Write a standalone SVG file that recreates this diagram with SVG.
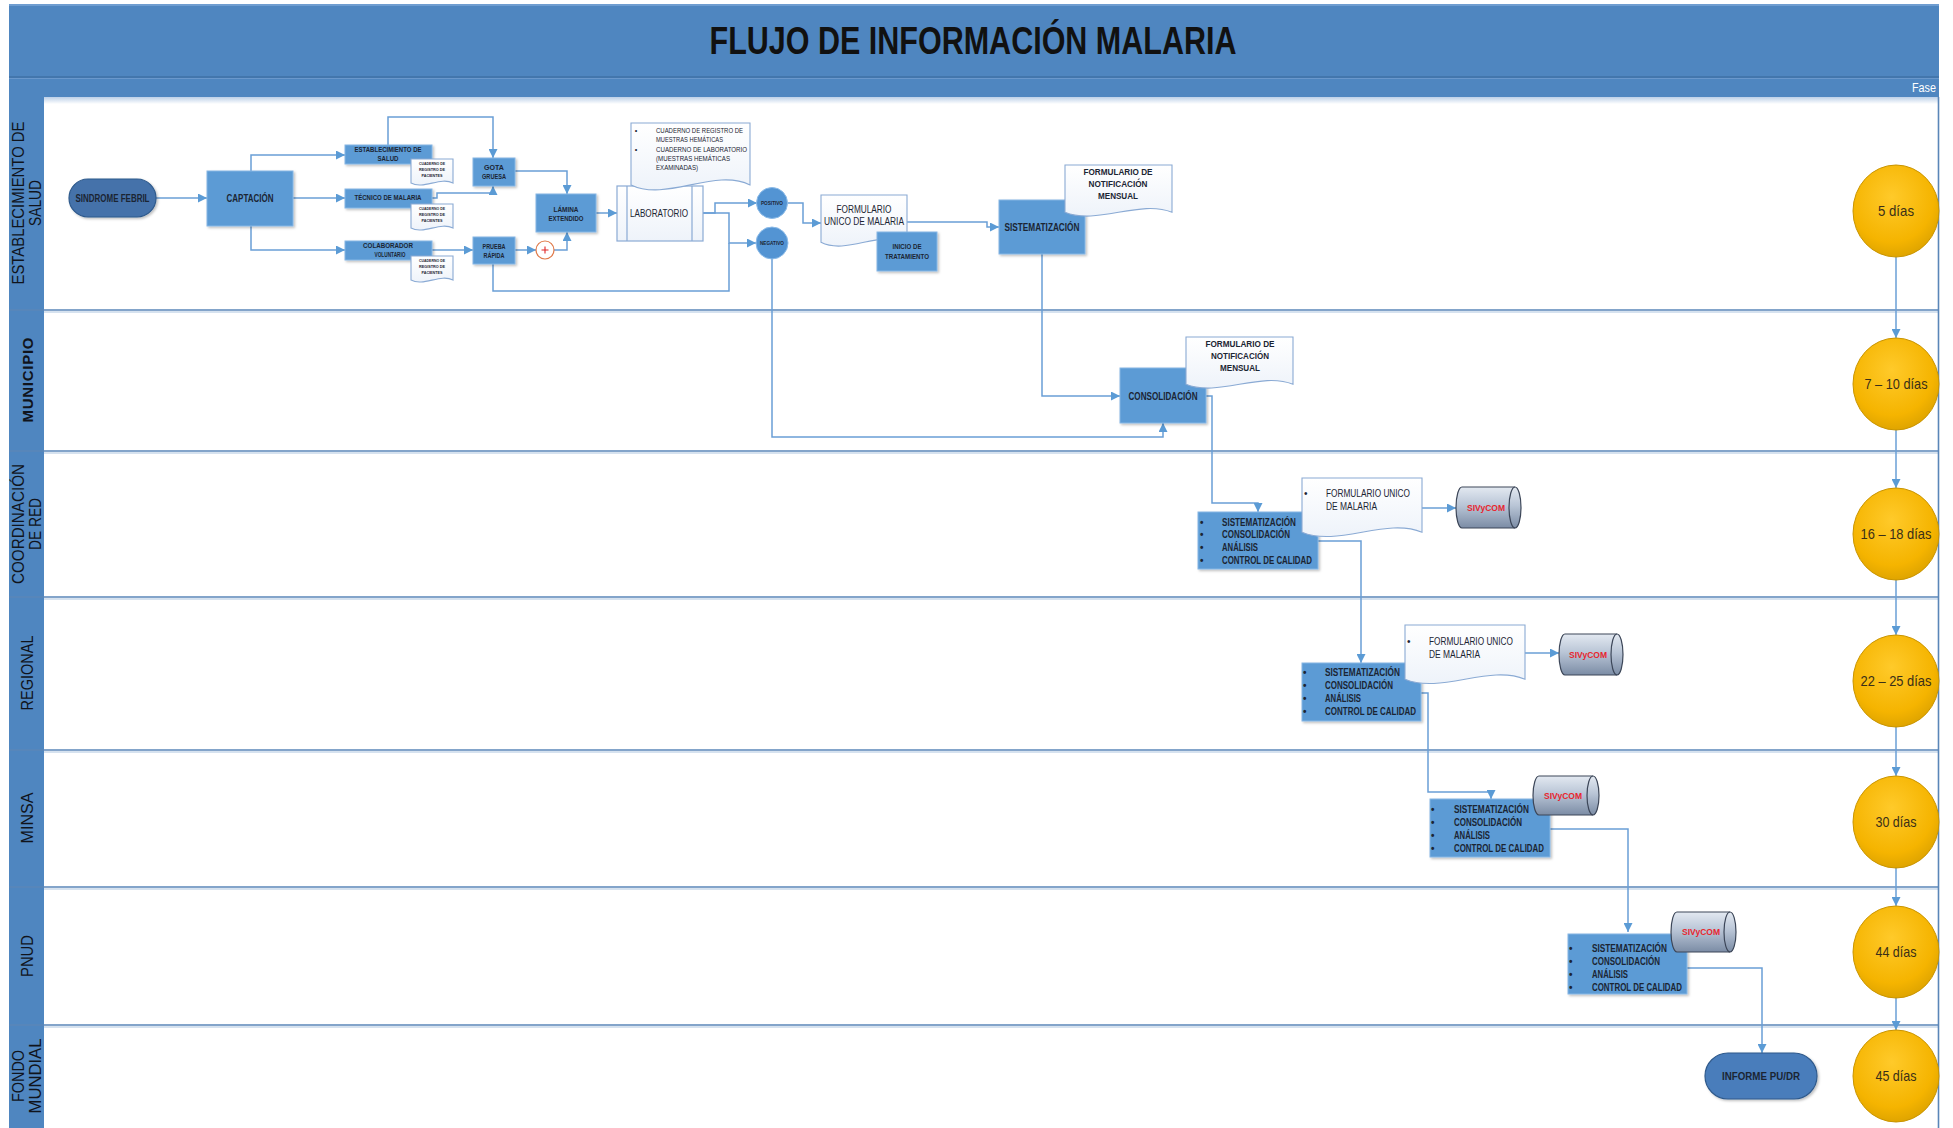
<svg xmlns="http://www.w3.org/2000/svg" width="1953" height="1128" viewBox="0 0 1953 1128">
<defs>
<marker id="arr" viewBox="0 0 10 10" refX="10" refY="5" markerWidth="9" markerHeight="9" markerUnits="userSpaceOnUse" orient="auto"><path d="M0,0 L10,5 L0,10 z" fill="#5b9bd5"/></marker>
<linearGradient id="docg" x1="0" y1="0" x2="0" y2="1"><stop offset="0" stop-color="#ffffff"/><stop offset="1" stop-color="#eef3fa"/></linearGradient>
<linearGradient id="cylg" x1="0" y1="0" x2="0" y2="1"><stop offset="0" stop-color="#e3e9f1"/><stop offset="0.45" stop-color="#b9c5d6"/><stop offset="1" stop-color="#7b8ca5"/></linearGradient>
<radialGradient id="dayg" cx="0.45" cy="0.35" r="0.7"><stop offset="0" stop-color="#ffca2a"/><stop offset="0.7" stop-color="#f5b400"/><stop offset="1" stop-color="#d9a000"/></radialGradient>
<linearGradient id="shadeg" x1="0" y1="0" x2="0" y2="1"><stop offset="0" stop-color="#bcd0e8"/><stop offset="1" stop-color="#ffffff"/></linearGradient>
<filter id="sh" x="-10%" y="-10%" width="130%" height="140%"><feDropShadow dx="1.5" dy="1.5" stdDeviation="1" flood-color="#000" flood-opacity="0.25"/></filter>
</defs>
<style>
.t{font-family:"Liberation Sans",Arial,sans-serif;fill:#1b2533}
.b{font-weight:bold}
.c{text-anchor:middle}
.box{fill:#5b9bd5;stroke:#86b6e4;stroke-width:1;filter:url(#sh)}
.pill{fill:#4472aa;stroke:#2f5a8c;stroke-width:1.2;filter:url(#sh)}
.doc{fill:url(#docg);stroke:#8aaad4;stroke-width:1.1}
.cyl{fill:url(#cylg);stroke:#3c4658;stroke-width:1.2}
.cyli{fill:none;stroke:#3c4658;stroke-width:1.2}
.day{fill:url(#dayg);stroke:#c99400;stroke-width:1}
.conn{fill:none;stroke:#6a9fd6;stroke-width:1.5;marker-end:url(#arr)}
.connn{fill:none;stroke:#6a9fd6;stroke-width:1.5}
.lane{stroke:#5a86b8;stroke-width:1.6}
.lanes{stroke:#c8d8ea;stroke-width:1.5}
.lbl{font-family:"Liberation Sans",Arial,sans-serif;fill:#10141c;font-size:17px;text-anchor:middle}
.sv{font-family:"Liberation Sans",Arial,sans-serif;fill:#e8262e;font-size:9.5px;font-weight:bold;text-anchor:middle}
.dt{font-family:"Liberation Sans",Arial,sans-serif;fill:#3a2f18;font-size:14.5px;text-anchor:middle}
</style>
<rect x="0" y="0" width="1953" height="1128" fill="#ffffff"/>
<g id="header">
<rect x="9" y="4" width="1930" height="93" fill="#4f86c0"/>
<line x1="9" y1="5" x2="1939" y2="5" stroke="#6f9dd0" stroke-width="2"/>
<line x1="9" y1="77" x2="1939" y2="77" stroke="#3f70a6" stroke-width="1.5"/>
<line x1="9" y1="78.5" x2="1939" y2="78.5" stroke="#6a98cc" stroke-width="1"/>
<text class="t b c" x="973" y="54" font-size="38" textLength="527" lengthAdjust="spacingAndGlyphs" style="fill:#111">FLUJO DE INFORMACIÓN MALARIA</text>
<text class="t" x="1936" y="92" font-size="12" text-anchor="end" textLength="24" lengthAdjust="spacingAndGlyphs" style="fill:#ffffff">Fase</text>
</g>
<g id="lanes">
<rect x="9" y="97" width="35" height="1031" fill="#4f86c0"/>
<rect x="44" y="97" width="1894" height="7" fill="url(#shadeg)"/>
<line class="lanes" x1="44" y1="312" x2="1938" y2="312"/>
<line class="lanes" x1="44" y1="453" x2="1938" y2="453"/>
<line class="lanes" x1="44" y1="599" x2="1938" y2="599"/>
<line class="lanes" x1="44" y1="752" x2="1938" y2="752"/>
<line class="lanes" x1="44" y1="889" x2="1938" y2="889"/>
<line class="lanes" x1="44" y1="1027" x2="1938" y2="1027"/>
<line class="lane" x1="9" y1="310" x2="1938" y2="310"/>
<line class="lane" x1="9" y1="451" x2="1938" y2="451"/>
<line class="lane" x1="9" y1="597" x2="1938" y2="597"/>
<line class="lane" x1="9" y1="750" x2="1938" y2="750"/>
<line class="lane" x1="9" y1="887" x2="1938" y2="887"/>
<line class="lane" x1="9" y1="1025" x2="1938" y2="1025"/>
<line class="lane" x1="1938.5" y1="97" x2="1938.5" y2="1128"/>
<text class="lbl" transform="translate(24,203) rotate(-90)" textLength="163" lengthAdjust="spacingAndGlyphs">ESTABLECIMIENTO DE</text>
<text class="lbl" transform="translate(41,203) rotate(-90)" textLength="46" lengthAdjust="spacingAndGlyphs">SALUD</text>
<text class="lbl b" transform="translate(33,380) rotate(-90)" style="font-size:15px" textLength="85">MUNICIPIO</text>
<text class="lbl" transform="translate(24,524) rotate(-90)" textLength="120" lengthAdjust="spacingAndGlyphs">COORDINACIÓN</text>
<text class="lbl" transform="translate(41,524) rotate(-90)" textLength="52" lengthAdjust="spacingAndGlyphs">DE RED</text>
<text class="lbl" transform="translate(33,673) rotate(-90)" textLength="75" lengthAdjust="spacingAndGlyphs">REGIONAL</text>
<text class="lbl" transform="translate(33,818) rotate(-90)" textLength="51" lengthAdjust="spacingAndGlyphs">MINSA</text>
<text class="lbl" transform="translate(33,956) rotate(-90)" textLength="42" lengthAdjust="spacingAndGlyphs">PNUD</text>
<text class="lbl" transform="translate(24,1076) rotate(-90)" textLength="52" lengthAdjust="spacingAndGlyphs">FONDO</text>
<text class="lbl" transform="translate(41,1076) rotate(-90)" textLength="75" lengthAdjust="spacingAndGlyphs">MUNDIAL</text>
</g>
<g id="connectors">
<path class="conn" d="M156,198 H207"/>
<path class="conn" d="M251,171 V155 H345"/>
<path class="conn" d="M293,198 H345"/>
<path class="conn" d="M251,226 V250 H345"/>
<path class="conn" d="M388,145 V117 H493 V158"/>
<path class="conn" d="M432,198 H437 V193 H493 V186"/>
<path class="conn" d="M432,250 H473"/>
<path class="conn" d="M515,171 H567 V194"/>
<path class="conn" d="M515,250 H536"/>
<path class="conn" d="M554,250 H567 V232"/>
<path class="conn" d="M596,213 H617"/>
<path class="conn" d="M703,213 H715 V203 H757"/>
<path class="conn" d="M703,213 H729 V243 H756"/>
<path class="connn" d="M493,264 V291 H729 V243"/>
<path class="conn" d="M788,203 H803 V223 H821"/>
<path class="conn" d="M907,222 H987 V227 H999"/>
<path class="conn" d="M772,259 V437 H1163 V423"/>
<path class="conn" d="M1042,254 V396 H1120"/>
<path class="conn" d="M1206,396 H1212 V503 H1258 V512"/>
<path class="conn" d="M1422,508 H1456"/>
<path class="conn" d="M1318,541 H1361 V663"/>
<path class="conn" d="M1525,653 H1559"/>
<path class="conn" d="M1421,693 H1428 V792 H1491 V799"/>
<path class="conn" d="M1550,829 H1628 V932"/>
<path class="conn" d="M1687,968 H1762 V1053"/>
<path class="conn" d="M1896,257 V338"/>
<path class="conn" d="M1896,430 V488"/>
<path class="conn" d="M1896,580 V635"/>
<path class="conn" d="M1896,727 V776"/>
<path class="conn" d="M1896,868 V906"/>
<path class="conn" d="M1896,998 V1030"/>
</g>
<g id="n-sindrome">
<rect class="pill" x="69" y="179" width="87" height="38" rx="19"/>
<text class="t b c" x="112.5" y="201.7" font-size="10.5" textLength="74" lengthAdjust="spacingAndGlyphs">SINDROME FEBRIL</text>
</g>
<g id="n-captacion">
<rect class="box" x="207" y="171" width="86" height="55"/>
<text class="t b c" x="250" y="202" font-size="11" textLength="47" lengthAdjust="spacingAndGlyphs">CAPTACIÓN</text>
</g>
<g id="n-establecimiento">
<rect class="box" x="345" y="145" width="87" height="19"/>
<text class="t b c" x="388" y="152.3" font-size="6.5" textLength="67" lengthAdjust="spacingAndGlyphs">ESTABLECIMIENTO DE</text>
<text class="t b c" x="388" y="161.3" font-size="6.5" textLength="21" lengthAdjust="spacingAndGlyphs">SALUD</text>
</g>
<g id="n-doc-estab">
<path class="doc" d="M411,159 H453 V183.1 C440.4,176.4 423.6,189.8 411,183.1 Z"/>
<text class="t b c" x="432" y="164.7" font-size="4" textLength="26" lengthAdjust="spacingAndGlyphs">CUADERNO DE</text>
<text class="t b c" x="432" y="170.7" font-size="4" textLength="26" lengthAdjust="spacingAndGlyphs">REGISTRO DE</text>
<text class="t b c" x="432" y="177.1" font-size="4" textLength="21" lengthAdjust="spacingAndGlyphs">PACIENTES</text>
</g>
<g id="n-tecnico">
<rect class="box" x="345" y="189" width="87" height="19"/>
<text class="t b c" x="388" y="200.3" font-size="6.5" textLength="67" lengthAdjust="spacingAndGlyphs">TÉCNICO DE MALARIA</text>
</g>
<g id="n-doc-tecnico">
<path class="doc" d="M411,204 H453 V228.1 C440.4,221.4 423.6,234.8 411,228.1 Z"/>
<text class="t b c" x="432" y="209.7" font-size="4" textLength="26" lengthAdjust="spacingAndGlyphs">CUADERNO DE</text>
<text class="t b c" x="432" y="215.7" font-size="4" textLength="26" lengthAdjust="spacingAndGlyphs">REGISTRO DE</text>
<text class="t b c" x="432" y="222.1" font-size="4" textLength="21" lengthAdjust="spacingAndGlyphs">PACIENTES</text>
</g>
<g id="n-colaborador">
<rect class="box" x="345" y="241" width="87" height="19"/>
<text class="t b c" x="388" y="248.3" font-size="6.5" textLength="50" lengthAdjust="spacingAndGlyphs">COLABORADOR</text>
<text class="t b c" x="390" y="257.3" font-size="6.5" textLength="31" lengthAdjust="spacingAndGlyphs">VOLUNTARIO</text>
</g>
<g id="n-doc-colaborador">
<path class="doc" d="M411,256 H453 V280.1 C440.4,273.4 423.6,286.8 411,280.1 Z"/>
<text class="t b c" x="432" y="261.7" font-size="4" textLength="26" lengthAdjust="spacingAndGlyphs">CUADERNO DE</text>
<text class="t b c" x="432" y="267.7" font-size="4" textLength="26" lengthAdjust="spacingAndGlyphs">REGISTRO DE</text>
<text class="t b c" x="432" y="274.1" font-size="4" textLength="21" lengthAdjust="spacingAndGlyphs">PACIENTES</text>
</g>
<g id="n-gota">
<rect class="box" x="473" y="158" width="42" height="28"/>
<text class="t b c" x="494" y="169.5" font-size="7" textLength="20" lengthAdjust="spacingAndGlyphs">GOTA</text>
<text class="t b c" x="494" y="178.5" font-size="7" textLength="24" lengthAdjust="spacingAndGlyphs">GRUESA</text>
</g>
<g id="n-prueba">
<rect class="box" x="473" y="237" width="42" height="27"/>
<text class="t b c" x="494" y="248.5" font-size="7" textLength="23" lengthAdjust="spacingAndGlyphs">PRUEBA</text>
<text class="t b c" x="494" y="257.5" font-size="7" textLength="21" lengthAdjust="spacingAndGlyphs">RÁPIDA</text>
</g>
<g id="n-plus">
<circle cx="545" cy="250" r="9" fill="#ffffff" stroke="#e07a4a" stroke-width="1.2"/>
<path d="M541.5,250 H548.5 M545,246.5 V253.5" stroke="#e02525" stroke-width="1.1"/>
</g>
<g id="n-lamina">
<rect class="box" x="536" y="194" width="60" height="38"/>
<text class="t b c" x="566" y="211.5" font-size="7" textLength="25" lengthAdjust="spacingAndGlyphs">LÁMINA</text>
<text class="t b c" x="566" y="220.5" font-size="7" textLength="35" lengthAdjust="spacingAndGlyphs">EXTENDIDO</text>
</g>
<g id="n-laboratorio">
<rect x="617" y="186" width="86" height="55" fill="url(#docg)" stroke="#8aaad4" stroke-width="1.2"/>
<path d="M627,186 V241 M692,186 V241" stroke="#8aaad4" stroke-width="1.2"/>
<text class="t c" x="659" y="216.7" font-size="10.5" textLength="58" lengthAdjust="spacingAndGlyphs">LABORATORIO</text>
</g>
<g id="n-doc-lab">
<path class="doc" d="M631,123 H750 V184.9 C714.3,167.6 666.7,202.2 631,184.9 Z"/>
<text class="t c" x="636" y="132.6" font-size="7.3">•</text>
<text class="t" x="656" y="132.6" font-size="7.3" textLength="87" lengthAdjust="spacingAndGlyphs">CUADERNO DE REGISTRO DE</text>
<text class="t" x="656" y="141.6" font-size="7.3" textLength="67" lengthAdjust="spacingAndGlyphs">MUESTRAS HEMÁTICAS</text>
<text class="t c" x="636" y="151.6" font-size="7.3">•</text>
<text class="t" x="656" y="151.6" font-size="7.3" textLength="91" lengthAdjust="spacingAndGlyphs">CUADERNO DE LABORATORIO</text>
<text class="t" x="656" y="160.6" font-size="7.3" textLength="74" lengthAdjust="spacingAndGlyphs">(MUESTRAS HEMÁTICAS</text>
<text class="t" x="656" y="169.6" font-size="7.3" textLength="42" lengthAdjust="spacingAndGlyphs">EXAMINADAS)</text>
</g>
<g id="n-positivo">
<circle cx="772" cy="203" r="15.5" fill="#5394d3" stroke="#8cbbe8" stroke-width="1"/>
<text class="t b c" x="772" y="204.8" font-size="5" textLength="22" lengthAdjust="spacingAndGlyphs">POSITIVO</text>
</g>
<g id="n-negativo">
<circle cx="772" cy="243" r="16" fill="#5394d3" stroke="#8cbbe8" stroke-width="1"/>
<text class="t b c" x="772" y="244.8" font-size="5" textLength="24" lengthAdjust="spacingAndGlyphs">NEGATIVO</text>
</g>
<g id="n-formulario-unico">
<path class="doc" d="M821,195 H907 V242.3 C881.2,229.1 846.8,255.5 821,242.3 Z"/>
<text class="t c" x="864" y="212.5" font-size="10" textLength="55" lengthAdjust="spacingAndGlyphs">FORMULARIO</text>
<text class="t c" x="864" y="224.5" font-size="10" textLength="80" lengthAdjust="spacingAndGlyphs">UNICO DE MALARIA</text>
</g>
<g id="n-inicio">
<rect class="box" x="877" y="232" width="60" height="39"/>
<text class="t b c" x="907" y="249.3" font-size="6.5" textLength="29" lengthAdjust="spacingAndGlyphs">INICIO DE</text>
<text class="t b c" x="907" y="259.3" font-size="6.5" textLength="44" lengthAdjust="spacingAndGlyphs">TRATAMIENTO</text>
</g>
<g id="n-sistematizacion">
<rect class="box" x="999" y="200" width="86" height="54"/>
<text class="t b c" x="1042" y="230.5" font-size="10" textLength="75" lengthAdjust="spacingAndGlyphs">SISTEMATIZACIÓN</text>
</g>
<g id="n-doc-notif1">
<path class="doc" d="M1065,165 H1172 V212.3 C1139.9,199.1 1097.1,225.5 1065,212.3 Z"/>
<text class="t b c" x="1118" y="175.3" font-size="9.5" textLength="69" lengthAdjust="spacingAndGlyphs">FORMULARIO DE</text>
<text class="t b c" x="1118" y="187.3" font-size="9.5" textLength="59" lengthAdjust="spacingAndGlyphs">NOTIFICACIÓN</text>
<text class="t b c" x="1118" y="199.3" font-size="9.5" textLength="40" lengthAdjust="spacingAndGlyphs">MENSUAL</text>
</g>
<g id="n-consolidacion">
<rect class="box" x="1120" y="368" width="86" height="55"/>
<text class="t b c" x="1163" y="399.5" font-size="10" textLength="69" lengthAdjust="spacingAndGlyphs">CONSOLIDACIÓN</text>
</g>
<g id="n-doc-notif2">
<path class="doc" d="M1186,337 H1293 V384.3 C1260.9,371.1 1218.1,397.5 1186,384.3 Z"/>
<text class="t b c" x="1240" y="347.3" font-size="9.5" textLength="69" lengthAdjust="spacingAndGlyphs">FORMULARIO DE</text>
<text class="t b c" x="1240" y="359.3" font-size="9.5" textLength="58" lengthAdjust="spacingAndGlyphs">NOTIFICACIÓN</text>
<text class="t b c" x="1240" y="371.3" font-size="9.5" textLength="40" lengthAdjust="spacingAndGlyphs">MENSUAL</text>
</g>
<g id="n-coord-box">
<rect class="box" x="1198" y="512" width="120" height="57"/>
<g class="t b" font-size="10">
<text x="1200" y="525.5">•</text><text x="1222" y="525.5" textLength="74" lengthAdjust="spacingAndGlyphs">SISTEMATIZACIÓN</text>
<text x="1200" y="537.5">•</text><text x="1222" y="537.5" textLength="68" lengthAdjust="spacingAndGlyphs">CONSOLIDACIÓN</text>
<text x="1200" y="550.5">•</text><text x="1222" y="550.5" textLength="36" lengthAdjust="spacingAndGlyphs">ANÁLISIS</text>
<text x="1200" y="563.5">•</text><text x="1222" y="563.5" textLength="90" lengthAdjust="spacingAndGlyphs">CONTROL DE CALIDAD</text>
</g>
</g>
<g id="n-coord-doc">
<path class="doc" d="M1302,478 H1422 V532.2 C1386,517.1 1338,547.3 1302,532.2 Z"/>
<text class="t" x="1304" y="497" font-size="10">•</text>
<text class="t" x="1326" y="497" font-size="10" textLength="84" lengthAdjust="spacingAndGlyphs">FORMULARIO UNICO</text>
<text class="t" x="1326" y="510" font-size="10" textLength="51" lengthAdjust="spacingAndGlyphs">DE MALARIA</text>
</g>
<g id="n-coord-sivycom">
<path class="cyl" d="M1462,487 H1515 A6,20.5 0 0 1 1515,528 H1462 A6,20.5 0 0 1 1462,487 Z"/>
<path class="cyli" d="M1515,487 A6,20.5 0 0 0 1515,528"/>
<text class="sv" x="1486" y="511.3" textLength="38" lengthAdjust="spacingAndGlyphs">SIVyCOM</text>
</g>
<g id="n-reg-box">
<rect class="box" x="1302" y="663" width="119" height="58"/>
<g class="t b" font-size="10">
<text x="1303" y="675.5">•</text><text x="1325" y="675.5" textLength="75" lengthAdjust="spacingAndGlyphs">SISTEMATIZACIÓN</text>
<text x="1303" y="688.5">•</text><text x="1325" y="688.5" textLength="68" lengthAdjust="spacingAndGlyphs">CONSOLIDACIÓN</text>
<text x="1303" y="701.5">•</text><text x="1325" y="701.5" textLength="36" lengthAdjust="spacingAndGlyphs">ANÁLISIS</text>
<text x="1303" y="714.5">•</text><text x="1325" y="714.5" textLength="91" lengthAdjust="spacingAndGlyphs">CONTROL DE CALIDAD</text>
</g>
</g>
<g id="n-reg-doc">
<path class="doc" d="M1405,625 H1525 V679.2 C1489,664.1 1441,694.3 1405,679.2 Z"/>
<text class="t" x="1407" y="645" font-size="10">•</text>
<text class="t" x="1429" y="645" font-size="10" textLength="84" lengthAdjust="spacingAndGlyphs">FORMULARIO UNICO</text>
<text class="t" x="1429" y="658" font-size="10" textLength="51" lengthAdjust="spacingAndGlyphs">DE MALARIA</text>
</g>
<g id="n-reg-sivycom">
<path class="cyl" d="M1565,634 H1617 A6,20.5 0 0 1 1617,675 H1565 A6,20.5 0 0 1 1565,634 Z"/>
<path class="cyli" d="M1617,634 A6,20.5 0 0 0 1617,675"/>
<text class="sv" x="1588" y="658.3" textLength="38" lengthAdjust="spacingAndGlyphs">SIVyCOM</text>
</g>
<g id="n-minsa-box">
<rect class="box" x="1430" y="799" width="120" height="58"/>
<g class="t b" font-size="10">
<text x="1431" y="812.5">•</text><text x="1454" y="812.5" textLength="75" lengthAdjust="spacingAndGlyphs">SISTEMATIZACIÓN</text>
<text x="1431" y="825.5">•</text><text x="1454" y="825.5" textLength="68" lengthAdjust="spacingAndGlyphs">CONSOLIDACIÓN</text>
<text x="1431" y="838.5">•</text><text x="1454" y="838.5" textLength="36" lengthAdjust="spacingAndGlyphs">ANÁLISIS</text>
<text x="1431" y="851.5">•</text><text x="1454" y="851.5" textLength="90" lengthAdjust="spacingAndGlyphs">CONTROL DE CALIDAD</text>
</g>
</g>
<g id="n-minsa-sivycom">
<path class="cyl" d="M1539,776 H1593 A6,19.5 0 0 1 1593,815 H1539 A6,19.5 0 0 1 1539,776 Z"/>
<path class="cyli" d="M1593,776 A6,19.5 0 0 0 1593,815"/>
<text class="sv" x="1563" y="799" textLength="38" lengthAdjust="spacingAndGlyphs">SIVyCOM</text>
</g>
<g id="n-pnud-box">
<rect class="box" x="1568" y="934" width="119" height="60"/>
<g class="t b" font-size="10">
<text x="1569" y="951.5">•</text><text x="1592" y="951.5" textLength="75" lengthAdjust="spacingAndGlyphs">SISTEMATIZACIÓN</text>
<text x="1569" y="964.5">•</text><text x="1592" y="964.5" textLength="68" lengthAdjust="spacingAndGlyphs">CONSOLIDACIÓN</text>
<text x="1569" y="977.5">•</text><text x="1592" y="977.5" textLength="36" lengthAdjust="spacingAndGlyphs">ANÁLISIS</text>
<text x="1569" y="990.5">•</text><text x="1592" y="990.5" textLength="90" lengthAdjust="spacingAndGlyphs">CONTROL DE CALIDAD</text>
</g>
</g>
<g id="n-pnud-sivycom">
<path class="cyl" d="M1677,912 H1730 A6,20 0 0 1 1730,952 H1677 A6,20 0 0 1 1677,912 Z"/>
<path class="cyli" d="M1730,912 A6,20 0 0 0 1730,952"/>
<text class="sv" x="1701" y="935.3" textLength="38" lengthAdjust="spacingAndGlyphs">SIVyCOM</text>
</g>
<g id="n-informe">
<rect class="pill" x="1705" y="1053" width="112" height="46" rx="23" style="fill:#4a7dbb"/>
<text class="t b c" x="1761" y="1079.5" font-size="10" textLength="78" lengthAdjust="spacingAndGlyphs">INFORME PU/DR</text>
</g>
<g id="n-dia5"><ellipse class="day" cx="1896" cy="211" rx="43" ry="46"/><text class="dt" x="1896" y="216" textLength="36" lengthAdjust="spacingAndGlyphs">5 días</text></g>
<g id="n-dia7"><ellipse class="day" cx="1896" cy="384" rx="43" ry="46"/><text class="dt" x="1896" y="389" textLength="63" lengthAdjust="spacingAndGlyphs">7 – 10 días</text></g>
<g id="n-dia16"><ellipse class="day" cx="1896" cy="534" rx="43" ry="46"/><text class="dt" x="1896" y="539" textLength="71" lengthAdjust="spacingAndGlyphs">16 – 18 días</text></g>
<g id="n-dia22"><ellipse class="day" cx="1896" cy="681" rx="43" ry="46"/><text class="dt" x="1896" y="686" textLength="71" lengthAdjust="spacingAndGlyphs">22 – 25 días</text></g>
<g id="n-dia30"><ellipse class="day" cx="1896" cy="822" rx="43" ry="46"/><text class="dt" x="1896" y="827" textLength="41" lengthAdjust="spacingAndGlyphs">30 días</text></g>
<g id="n-dia44"><ellipse class="day" cx="1896" cy="952" rx="43" ry="46"/><text class="dt" x="1896" y="957" textLength="41" lengthAdjust="spacingAndGlyphs">44 días</text></g>
<g id="n-dia45"><ellipse class="day" cx="1896" cy="1076" rx="43" ry="46"/><text class="dt" x="1896" y="1081" textLength="41" lengthAdjust="spacingAndGlyphs">45 días</text></g>
</svg>
